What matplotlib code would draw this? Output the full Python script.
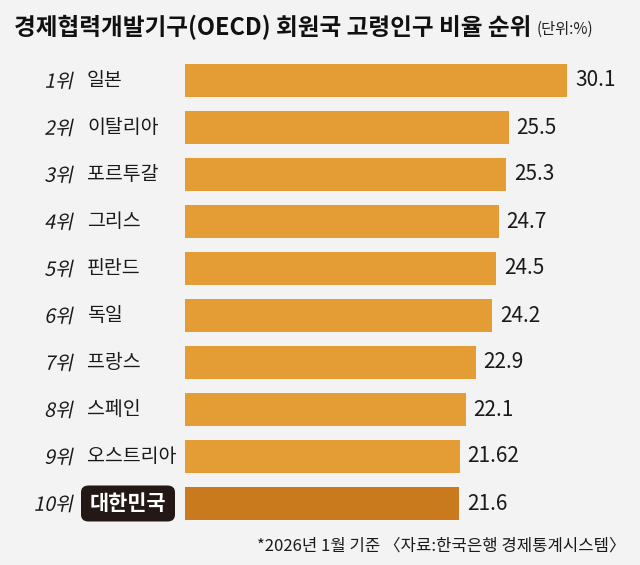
import matplotlib.pyplot as plt
from matplotlib.patches import FancyBboxPatch, PathPatch
from matplotlib.textpath import TextPath
from matplotlib.font_manager import FontProperties
from matplotlib.transforms import Affine2D, IdentityTransform

plt.rcParams['font.family'] = ['Noto Sans CJK KR', 'DejaVu Sans']

ranks = ['1위', '2위', '3위', '4위', '5위', '6위', '7위', '8위', '9위', '10위']
countries = ['일본', '이탈리아', '포르투갈', '그리스', '핀란드', '독일', '프랑스', '스페인', '오스트리아', '대한민국']
values = [30.1, 25.5, 25.3, 24.7, 24.5, 24.2, 22.9, 22.1, 21.62, 21.6]
value_labels = ['30.1', '25.5', '25.3', '24.7', '24.5', '24.2', '22.9', '22.1', '21.62', '21.6']

bg = '#f3f3f3'
bar_color = '#e49c35'
korea_color = '#c97a1c'
ink = '#1a1a1a'

fig = plt.figure(figsize=(6.4, 5.65), dpi=100)
fig.patch.set_facecolor(bg)

W, H = 640, 565
ax = fig.add_axes([185 / W, 1 - 527 / H, (W - 185) / W, (527 - 57) / H])
ax.set_facecolor(bg)
ax.set_xlim(0, 455 / 12.7)
ax.set_ylim(len(values) - 0.5, -0.5)
ax.axis('off')

colors = [bar_color] * (len(values) - 1) + [korea_color]
ax.barh(range(len(values)), values, height=0.72, color=colors)

for i, v in enumerate(values):
    ax.text(v + 0.6, i, value_labels[i], va='center', ha='left', fontsize=15, color=ink)

# slanted rank labels (CJK font has no italic, so shear the glyph path)
fp = FontProperties(family='Noto Sans CJK KR', weight='medium')
for i in range(len(values)):
    y_disp = ax.transData.transform((0, i))[1]
    yf = y_disp / H
    tp = TextPath((0, 0), ranks[i], size=19.5, prop=fp)
    bb = tp.get_extents()
    tr = Affine2D().translate(-bb.x1, -(bb.y0 + bb.y1) / 2).skew_deg(12, 0).translate(72, y_disp)
    fig.patches.append(PathPatch(tr.transform_path(tp), transform=IdentityTransform(),
                                 facecolor=ink, edgecolor='none'))
    if i < len(values) - 1:
        fig.text(87 / W, yf, countries[i], ha='left', va='center', fontsize=14, color=ink)
    else:
        box = FancyBboxPatch((81 / W, yf - 18 / H), 94 / W, 36 / H,
                             boxstyle='round,pad=0,rounding_size=0.012',
                             transform=fig.transFigure, facecolor='#231815', edgecolor='none')
        fig.patches.append(box)
        fig.text(128 / W, yf, countries[i], ha='center', va='center', fontsize=15,
                 fontweight='bold', color='white')

fig.text(14 / W, 1 - 27 / H, '경제협력개발기구(OECD) 회원국 고령인구 비율 순위',
         ha='left', va='center', fontsize=17, fontweight='bold', color='#111111')
fig.text(537 / W, 1 - 29 / H, '(단위:%)', ha='left', va='center', fontsize=11, color='#222222')
fig.text(626 / W, 1 - 546 / H, '*2026년 1월 기준 〈자료:한국은행 경제통계시스템〉',
         ha='right', va='center', fontsize=12, color=ink)

fig.savefig('out.png', dpi=100, facecolor=bg)
